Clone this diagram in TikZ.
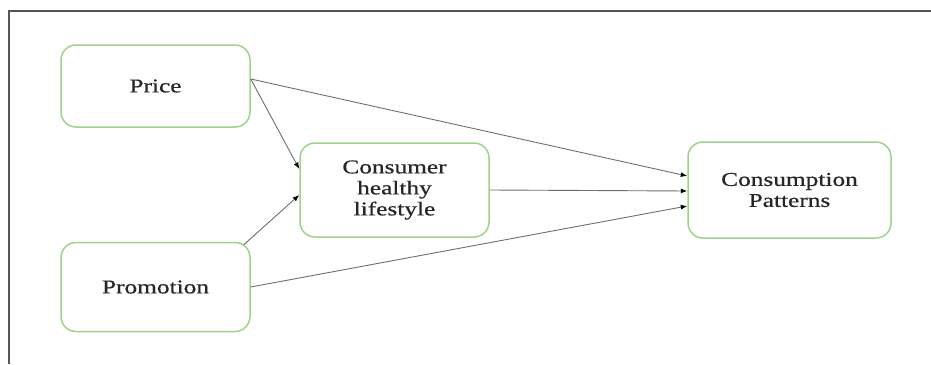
\documentclass[tikz,border=0pt]{standalone}
\usepackage{fontspec}
\setmainfont{Liberation Serif}[FakeStretch=1.3,FakeBold=0.6]
\usetikzlibrary{arrows.meta,calc}
\definecolor{boxgreen}{RGB}{160,210,140}
\definecolor{framegray}{RGB}{85,85,85}
\definecolor{linkgray}{RGB}{110,110,110}
\begin{document}
\begin{tikzpicture}[x=1pt,y=-1pt,
  factor/.style={draw=boxgreen,line width=1.5pt,rounded corners=15pt,
    align=center,inner sep=0pt,text=black!85,
    font=\fontsize{19.5}{21}\selectfont},
  link/.style={draw=linkgray,line width=0.9pt,
    -{Latex[length=6.5pt,width=5pt,color=black]}}]
  \useasboundingbox (0,0) rectangle (931,364);
  % outer frame: top and left edges only
  \draw[framegray,line width=1.6pt] (931,11) -- (9,11) -- (9,364);

  \node[factor,minimum width=189pt,minimum height=82pt] (price) at (155.5,86) {Price};
  \node[factor,minimum width=189pt,minimum height=89pt] (promo) at (155.5,287) {Promotion};
  \node[factor,minimum width=189pt,minimum height=94pt] (life) at (394.5,190) {Consumer\\healthy\\lifestyle};
  \node[factor,minimum width=203pt,minimum height=96pt] (cons) at (789.5,190) {Consumption\\Patterns};

  \coordinate (priceout) at ($(price.east)+(0,-7)$);
  \coordinate (promoout) at ($(promo.north east)+(-7,3)$);

  \draw[link] (priceout) -- ($(life.west)+(0,-21)$);
  \draw[link] (promoout) -- ($(life.west)+(0,5)$);
  \draw[link] (priceout) -- ($(cons.west)+(0,-14)$);
  \draw[link] (life.east) -- ($(cons.west)+(0,1)$);
  \draw[link] (promo.east) -- ($(cons.west)+(0,16)$);
\end{tikzpicture}
\end{document}
